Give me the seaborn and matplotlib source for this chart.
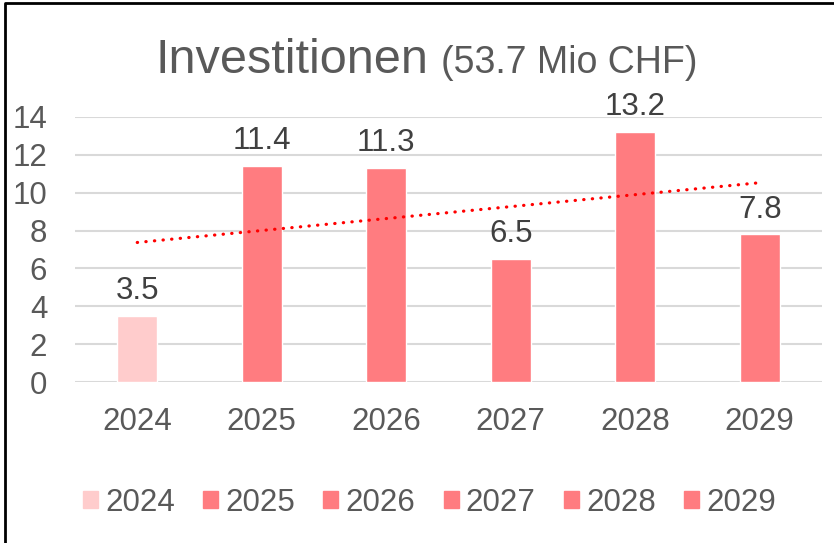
import numpy as np
import pandas as pd
import matplotlib
matplotlib.use('Agg')
import matplotlib.pyplot as plt
import seaborn as sns
from matplotlib.lines import Line2D

# Daten
jahre = ['2024', '2025', '2026', '2027', '2028', '2029']
werte = [3.5, 11.4, 11.3, 6.5, 13.2, 7.8]
farben = ['#FFCCCC', '#FF7C80', '#FF7C80', '#FF7C80', '#FF7C80', '#FF7C80']
titel = 'Investitionen'
untertitel = '(53.7 Mio CHF)'

sns.set_theme(style='white')
plt.rcParams['font.family'] = ['Liberation Sans', 'DejaVu Sans']

df = pd.DataFrame({'Jahr': jahre, 'Wert': werte})

fig = plt.figure(figsize=(8.34, 5.43), dpi=100)
ax = fig.add_axes([75 / 834, 161 / 543, 747 / 834, 265 / 543])

sns.barplot(data=df, x='Jahr', y='Wert', hue='Jahr', palette=dict(zip(jahre, farben)),
            dodge=False, width=0.32, saturation=1, legend=False, ax=ax)

# Datenbeschriftungen
for cont in ax.containers:
    ax.bar_label(cont, fmt='%.1f', padding=7, fontsize=22.5, color='#404040')

# Lineare Trendlinie
x = np.arange(len(werte))
k, d = np.polyfit(x, werte, 1)
ax.plot(x, k * x + d, color='#FF0000', linewidth=2.3,
        linestyle=(0, (0.1, 2.6)), dash_capstyle='round', zorder=3)

ax.set_xlim(-0.5, len(jahre) - 0.5)
ax.set_ylim(0, 14)
ax.set_yticks(range(0, 15, 2))
ax.yaxis.grid(True, color='#D9D9D9', linewidth=1.5)
ax.set_axisbelow(True)
for s in ax.spines.values():
    s.set_visible(False)
ax.set_xlabel('')
ax.set_ylabel('')
ax.tick_params(axis='both', length=0, labelsize=22.5, labelcolor='#595959')
ax.tick_params(axis='x', pad=18)
ax.tick_params(axis='y', pad=20)

# Titel
fig.text(428 / 834, 1 - 73 / 543, titel, ha='right', va='baseline',
         fontsize=35, color='#595959')
fig.text(441 / 834, 1 - 73 / 543, untertitel, ha='left', va='baseline',
         fontsize=27, color='#595959')

# Legende
handles = [plt.Rectangle((0, 0), 1, 1, color=c) for c in farben]
fig.legend(handles, jahre, loc='center', bbox_to_anchor=(0.515, 0.074), ncol=6,
           frameon=False, fontsize=22.5, labelcolor='#595959', handlelength=0.48,
           handleheight=0.48, handletextpad=0.23, columnspacing=0.9)

# Rahmen
fig.add_artist(Line2D([5 / 834, 5 / 834, 1], [0, 1 - 3 / 543, 1 - 3 / 543],
                      transform=fig.transFigure, color='black', linewidth=2))

fig.savefig('out.png', dpi=100)
